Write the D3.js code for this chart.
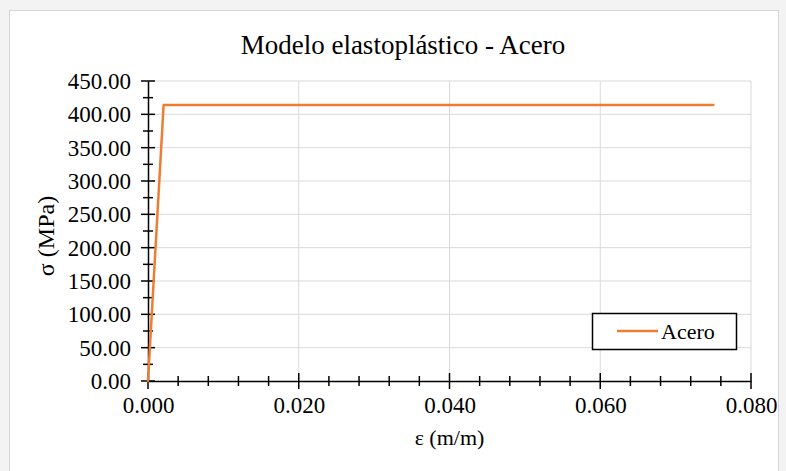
<!DOCTYPE html>
<html>
<head>
<meta charset="utf-8">
<script src="https://cdn.jsdelivr.net/npm/d3@7"></script>
<style>
  body { margin: 0; background: #f3f3f3; }
  svg { display: block; font-family: "Liberation Serif", "Times New Roman", serif; }
</style>
</head>
<body>
<svg id="chart" width="786" height="471"></svg>
<script>
// strain (m/m) and stress (MPa) of the elastoplastic steel model
var strain = [0, 0.00207, 0.075];
var stress = [0, 414, 414];
var seriesName = "Acero";
var yTicks = [0, 50, 100, 150, 200, 250, 300, 350, 400, 450];
var xTicks = [0, 0.02, 0.04, 0.06, 0.08];
var yMinor = d3.range(0, 451, 25);
var xMinor = d3.range(0, 0.0801, 0.004);

var svg = d3.select("#chart");
var pLeft = 148, pRight = 751, pTop = 81, pBottom = 381;
var orange = "#ed7d31";

// chart frame
svg.append("rect")
  .attr("x", 9.5).attr("y", 10.5)
  .attr("width", 769).attr("height", 470)
  .attr("fill", "#fff").attr("stroke", "#d6d6d6");

var x = d3.scaleLinear().domain([0, 0.08]).range([pLeft, pRight]);
var y = d3.scaleLinear().domain([0, 450]).range([pBottom, pTop]);

// gridlines
svg.append("g").selectAll("line").data(yTicks.slice(1)).enter()
  .append("line")
  .attr("x1", pLeft).attr("x2", pRight)
  .attr("y1", d => y(d)).attr("y2", d => y(d))
  .attr("stroke", "#d9d9d9").attr("stroke-width", 1);

svg.append("g").selectAll("line").data(xTicks.slice(1)).enter()
  .append("line")
  .attr("x1", d => x(d)).attr("x2", d => x(d))
  .attr("y1", pTop).attr("y2", pBottom)
  .attr("stroke", "#d9d9d9").attr("stroke-width", 1);

// axes
var yAxis = svg.append("g")
  .attr("transform", "translate(" + pLeft + ",0)")
  .call(d3.axisLeft(y).tickValues(yTicks).tickFormat(d3.format(".2f")).tickSize(0).tickPadding(17));

var xAxis = svg.append("g")
  .attr("transform", "translate(0," + pBottom + ")")
  .call(d3.axisBottom(x).tickValues(xTicks).tickFormat(d3.format(".3f")).tickSize(0).tickPadding(16));

[yAxis, xAxis].forEach(g => {
  g.select(".domain").attr("stroke", "#000").attr("stroke-width", 1.5);
  g.selectAll("text").attr("font-size", 23).attr("fill", "#000")
    .style("font-family", "\"Liberation Serif\", \"Times New Roman\", serif");
});

// cross tick marks
svg.append("g").selectAll("line").data(yMinor).enter()
  .append("line")
  .attr("x1", d => pLeft - (d % 50 == 0 ? 7 : 5))
  .attr("x2", d => pLeft + (d % 50 == 0 ? 7 : 5))
  .attr("y1", d => y(d)).attr("y2", d => y(d))
  .attr("stroke", "#000").attr("stroke-width", 1.5);

svg.append("g").selectAll("line").data(xMinor).enter()
  .append("line")
  .attr("x1", d => x(d)).attr("x2", d => x(d))
  .attr("y1", (d, i) => pBottom - (i % 5 == 0 ? 8 : 5))
  .attr("y2", (d, i) => pBottom + (i % 5 == 0 ? 8 : 5))
  .attr("stroke", "#000").attr("stroke-width", 1.5);

// series
var pts = strain.map((s, i) => [s, stress[i]]);
var line = d3.line().x(d => x(d[0])).y(d => y(d[1]));

svg.append("path")
  .datum(pts)
  .attr("d", line)
  .attr("fill", "none")
  .attr("stroke", orange)
  .attr("stroke-width", 2.5)
  .attr("stroke-linejoin", "round")
  .attr("stroke-linecap", "round");

// title
svg.append("text")
  .attr("x", 403).attr("y", 54)
  .attr("text-anchor", "middle")
  .attr("font-size", 27)
  .text("Modelo elastoplástico - Acero");

// axis titles
svg.append("text")
  .attr("x", (pLeft + pRight) / 2).attr("y", 445)
  .attr("text-anchor", "middle")
  .attr("font-size", 22)
  .text("ε (m/m)");

svg.append("text")
  .attr("transform", "translate(54," + ((pTop + pBottom) / 2 + 5) + ") rotate(-90)")
  .attr("text-anchor", "middle")
  .attr("font-size", 24)
  .text("σ (MPa)");

// legend
var lg = svg.append("g").attr("transform", "translate(592,313)");
lg.append("rect")
  .attr("x", 0.5).attr("y", 0.5)
  .attr("width", 144).attr("height", 36)
  .attr("fill", "#fff").attr("stroke", "#000").attr("stroke-width", 1.5);
lg.append("line")
  .attr("x1", 25).attr("x2", 66)
  .attr("y1", 18).attr("y2", 18)
  .attr("stroke", orange).attr("stroke-width", 2.5);
lg.append("text")
  .attr("x", 69).attr("y", 26)
  .attr("font-size", 22)
  .text(seriesName);
</script>
</body>
</html>
